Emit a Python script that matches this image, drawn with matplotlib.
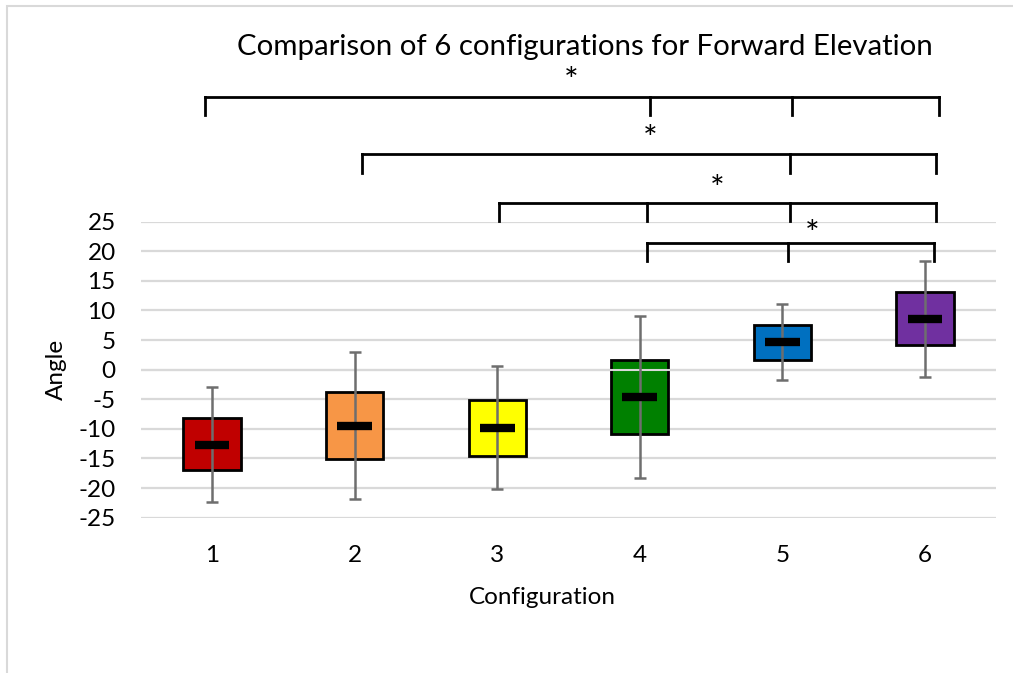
import numpy as np
import matplotlib
matplotlib.use('Agg')
import matplotlib.pyplot as plt
from matplotlib.patches import Rectangle

plt.rcParams['font.family'] = ['Lato', 'DejaVu Sans']
plt.rcParams['axes.unicode_minus'] = False

configs = [1, 2, 3, 4, 5, 6]
whisker_low = [-22.3, -21.9, -20.1, -18.3, -1.7, -1.2]
q1 = [-17.0, -15.1, -14.5, -10.9, 1.7, 4.1]
median = [-12.7, -9.5, -9.8, -4.6, 4.7, 8.6]
q3 = [-8.2, -3.7, -5.1, 1.6, 7.6, 13.1]
whisker_high = [-3.0, 3.0, 0.6, 9.1, 11.1, 18.4]
colors = ['#C00000', '#F79646', '#FFFF00', '#008000', '#0070C0', '#7030A0']

# significance brackets
bracket_x = [[0.95, 4.07, 5.07, 6.10],
             [2.05, 5.05, 6.08],
             [3.01, 4.05, 5.05, 6.08],
             [4.05, 5.04, 6.06]]
bracket_top = [46.1, 36.4, 28.2, 21.4]
star_x = [3.52, 4.07, 4.54, 5.21]
star_y = [48.6, 38.8, 30.3, 22.7]

fig = plt.figure(figsize=(10.13, 6.73), dpi=100)
ax = fig.add_axes([0.1389, 0.2308, 0.8446, 0.4398])

x = np.array(configs)
lo, b1, md, b3, hi = map(np.array, (whisker_low, q1, median, q3, whisker_high))

ax.bar(x, b3 - b1, bottom=b1, width=0.4, color=colors, edgecolor='black',
       linewidth=2, zorder=2)
ax.axhline(0, color='#D9D9D9', lw=1.5, zorder=2.5)
ax.vlines(x, lo, hi, color='#6E6E6E', lw=1.8, zorder=3)
ax.hlines(lo, x - 0.042, x + 0.042, color='#6E6E6E', lw=1.8, zorder=3)
ax.hlines(hi, x - 0.042, x + 0.042, color='#6E6E6E', lw=1.8, zorder=3)
ax.hlines(md, x - 0.122, x + 0.122, color='black', lw=6, zorder=4)

for bx, top, sx, sy in zip(bracket_x, bracket_top, star_x, star_y):
    ax.plot([bx[0], bx[-1]], [top, top], color='black', lw=2, clip_on=False,
            solid_capstyle='projecting')
    for xx in bx:
        ax.plot([xx, xx], [top, top - 3.1], color='black', lw=2, clip_on=False)
    ax.text(sx, sy, '*', ha='center', va='center', fontsize=25, clip_on=False)

ax.set_xlim(0.5, 6.5)
ax.set_ylim(-25, 25)
ax.set_yticks(np.arange(-25, 26, 5))
ax.set_xticks(x)
ax.set_xticklabels([str(c) for c in configs])
ax.yaxis.grid(True, color='#D9D9D9', lw=1.6, zorder=0)
ax.set_axisbelow(True)
for s in ax.spines.values():
    s.set_visible(False)
ax.tick_params(length=0, labelsize=17.5)
ax.tick_params(axis='x', pad=20)
ax.tick_params(axis='y', pad=18)
ax.set_xlabel('Configuration', fontsize=17.5, va='center')
ax.xaxis.set_label_coords(0.469, -0.271)
ax.set_ylabel('Angle', fontsize=17.5, labelpad=8)

fig.text(585 / 1013, 1 - 47 / 673, 'Comparison of 6 configurations for Forward Elevation',
         ha='center', va='center', fontsize=21.2)

fig.patches.append(Rectangle((7 / 1013, -0.1), 1.2, 1 - 6 / 673 + 0.1,
                             transform=fig.transFigure, fill=False,
                             edgecolor='#D9D9D9', lw=1.5))

fig.savefig('out.png', dpi=100)
